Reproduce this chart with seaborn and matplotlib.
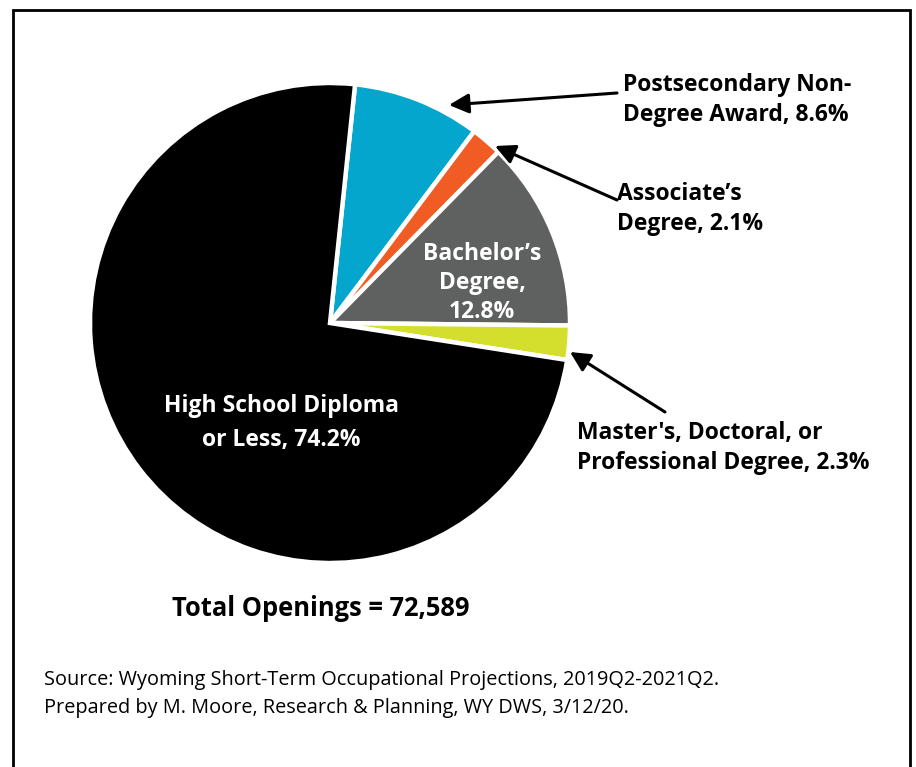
import matplotlib
matplotlib.use("Agg")
import matplotlib.pyplot as plt
from matplotlib.patches import Rectangle
import seaborn as sns

# Education level required for projected job openings (share of total, %)
categories = [
    "Postsecondary Non-\nDegree Award",
    "Associate’s\nDegree",
    "Bachelor’s\nDegree,\n",
    "Master's, Doctoral, or\nProfessional Degree",
    "High School Diploma\nor Less",
]
shares = [8.6, 2.1, 12.8, 2.3, 74.2]
colors = ["#05A6CD", "#F15C24", "#5F6060", "#D4DF2D", "#000000"]
total_openings = 72589
source_lines = [
    "Source: Wyoming Short-Term Occupational Projections, 2019Q2-2021Q2.",
    "Prepared by M. Moore, Research & Planning, WY DWS, 3/12/20.",
]

sns.set_theme(style="white")
plt.rcParams["font.family"] = ["Open Sans", "DejaVu Sans"]

W, H = 916, 767
fig = plt.figure(figsize=(W / 100, H / 100), dpi=100)
ax = fig.add_axes([0, 0, 1, 1])


def Y(y):
    return H - y


ax.pie(
    shares,
    colors=colors,
    startangle=84,
    counterclock=False,
    center=(330, Y(323)),
    radius=240,
    wedgeprops=dict(edgecolor="white", linewidth=3.2),
)
ax.set_xlim(0, W)
ax.set_ylim(0, H)
ax.set_aspect("equal")
ax.axis("off")


def label(i):
    sep = "" if categories[i].endswith("\n") else ", "
    return f"{categories[i]}{sep}{shares[i]}%"


fs = 16.5
# outside labels with arrows
ax.text(623, Y(100), label(0), ha="left", va="center", fontsize=fs,
        fontweight="bold", color="black", linespacing=1.38)
ax.text(617, Y(209), label(1), ha="left", va="center", fontsize=fs,
        fontweight="bold", color="black", linespacing=1.38)
ax.text(577, Y(448), label(3), ha="left", va="center", fontsize=fs,
        fontweight="bold", color="black", linespacing=1.38)
# inside labels
ax.text(482, Y(283), label(2), ha="center", va="center", fontsize=fs,
        fontweight="bold", color="white", linespacing=1.25)
ax.text(281, Y(423), label(4), ha="center", va="center", fontsize=fs,
        fontweight="bold", color="white", linespacing=1.6)

arrow = dict(arrowstyle="-|>", color="black", lw=2.2, mutation_scale=30,
             shrinkA=0, shrinkB=0)
ax.annotate("", xy=(449, Y(105)), xytext=(617, Y(93)), arrowprops=arrow)
ax.annotate("", xy=(495, Y(146)), xytext=(617, Y(200)), arrowprops=arrow)
ax.annotate("", xy=(570, Y(352)), xytext=(665, Y(412)), arrowprops=arrow)

ax.text(321, Y(609), f"Total Openings = {total_openings:,}", ha="center",
        va="center", fontsize=18.4, fontweight="bold", color="black")
ax.text(44, Y(694), "\n".join(source_lines), ha="left", va="center",
        fontsize=14.3, color="black", linespacing=1.55)

# outer frame, open at the bottom edge
fig.add_artist(Rectangle((13 / W, -0.05), (910 - 13) / W, (H - 10) / H + 0.05,
                         transform=fig.transFigure, fill=False,
                         edgecolor="black", linewidth=2))

fig.savefig("out.png", dpi=100, facecolor="white")
